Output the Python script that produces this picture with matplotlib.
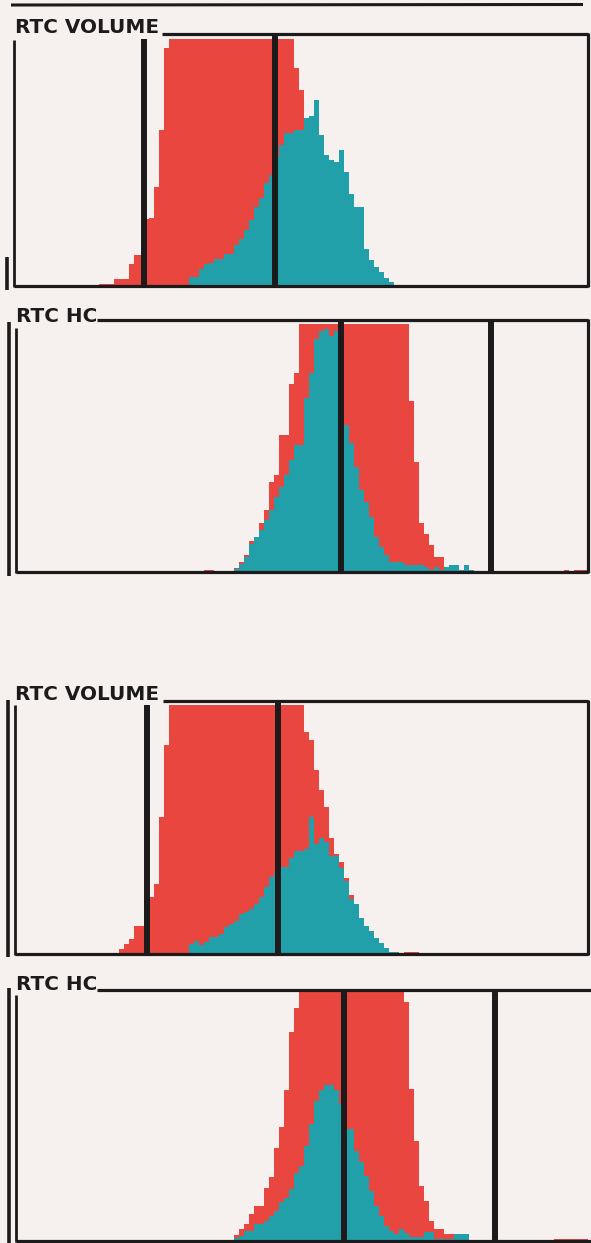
import numpy as np
import matplotlib
matplotlib.use("Agg")
import matplotlib.pyplot as plt

# ---------------------------------------------------------------------------
# Histogram channel data (counts scaled so that 100 = full-scale display)
# Each series starts at the given channel and runs over consecutive channels.
# ---------------------------------------------------------------------------

# Upper pair: RTC VOLUME
vol_a_red_start = 17
vol_a_red = [1, 1, 1, 3, 3, 3, 9, 12.5, 12.5, 27, 27.5, 40, 63, 96,
             100, 100, 100, 100, 100, 100, 100, 100, 100, 100, 100, 100, 100,
             100, 100, 100, 100, 100, 100, 100, 100, 100, 100, 100, 100,
             88, 79, 68, 55, 42, 30, 20, 12, 7, 4, 2, 1]
vol_a_teal_start = 35
vol_a_teal = [3.6, 3.6, 7, 9, 9.3, 11, 11, 13, 13, 16.6, 19, 22.7, 26.7, 32,
              35.6, 41.7, 45, 52, 57, 62, 62, 63, 63, 68, 68.5, 75, 61, 53,
              51, 50, 55, 46, 37, 32, 32, 15, 10.5, 7.7, 5.7, 3.2, 1.6,
              0.6, 0.6, 0.6]
vol_a_gates = [25.9, 52.2]

# Upper pair: RTC HC
hc_a_red_start = 38
hc_a_red = [0.8, 0.8, 0, 0, 0, 0, 1.5, 4, 6.5, 12.5, 14, 19.5, 25, 36, 39,
            55, 55, 75.6, 80,
            100, 100, 100, 100, 100, 100, 100, 100, 100, 100, 100, 100, 100,
            100, 100, 100, 100, 100, 100, 100, 100, 100,
            69, 44, 19.6, 15, 10.8, 6, 6, 2,
            0, 0, 0, 0, 0, 0, 0, 0, 0, 0, 0, 0, 0, 0, 0, 0, 0, 0, 0, 0, 0, 0, 0,
            0.6, 0, 0.6, 0.6, 0.6]
hc_a_teal_start = 37
hc_a_teal = [0.4, 0.4, 0.4, 0.4, 0.4, 0.4, 0.4, 1, 3.2, 5.7, 11, 14, 16.6,
             20.6, 24.7, 30, 34, 39, 45, 51, 51, 70, 80, 94, 97, 98, 95, 97,
             96, 59, 52, 42, 33, 28, 22, 14, 10, 6.5, 4, 4, 4, 2.7, 2.7, 2.7,
             2.7, 2, 0.5, 2, 0.5, 2, 2.7, 2.7, 0.5, 2.7, 0.5,
             0.4, 0.4, 0.4, 0.4, 0.4, 0.4, 0.4, 0.4, 0.4, 0.4, 0.4, 0.4, 0.4,
             0.4, 0.4, 0.4, 0.4, 0.4, 0.4, 0.4, 0.4, 0.4, 0.4]
hc_a_gates = [65.3, 95.3]

# Lower pair: RTC VOLUME
vol_b_red_start = 21
vol_b_red = [2, 4, 6, 11.4, 11.4, 23, 23, 28, 55, 84,
             100, 100, 100, 100, 100, 100, 100, 100, 100, 100, 100, 100, 100,
             100, 100, 100, 100, 100, 100, 100, 100, 100, 100, 100, 100, 100,
             100,
             89, 86, 74, 66, 59, 46.6, 40, 37, 30.6, 23.8, 18, 12, 9, 6, 4, 2,
             1, 0, 0, 0, 0.8, 0.8, 0.8]
vol_b_teal_start = 35
vol_b_teal = [4, 5.4, 3.5, 4.7, 6.7, 6.7, 8, 10.7, 12, 13.4, 16, 17, 18, 20,
              23, 27, 31, 33, 35, 35, 38.5, 41.5, 41.5, 42, 55, 44, 46.4, 45,
              39.5, 39.5, 34.7, 29.4, 22, 20, 14.5, 11.3, 9.3, 6.5, 4.4, 2.4,
              0.8, 0.8]
vol_b_gates = [26.5, 52.7]

# Lower pair: RTC HC
hc_b_red_start = 44
hc_b_red = [2.3, 4.7, 6.7, 10.8, 14, 14, 21, 25.5, 37, 45.7, 60.5, 84, 93.4,
            100, 100, 100, 100, 100, 100, 100, 100, 100, 100, 100, 100, 100,
            100, 100, 100, 100, 100, 100, 100, 100,
            96, 61, 40, 22, 16, 8, 4.7, 4.7, 2.7, 2.7, 2, 2,
            0, 0, 0, 0, 0, 0, 0, 0, 0, 0, 0, 0, 0, 0, 0, 0, 0, 0,
            0.8, 0.8, 0.8, 0.8, 0.8, 0.8, 0.8]
hc_b_teal_start = 40
hc_b_teal = [0.4, 0.4, 0.4, 0.4, 1, 2, 4, 4, 6.7, 6.7, 8, 10, 12, 15.5, 17,
             20.8, 27, 30, 38, 47, 56, 60.5, 62.5, 62.5, 60.5, 55, 45, 45, 36,
             31.6, 26, 20, 14, 10, 6, 4, 2.7, 4.7, 3, 1.3, 1.3, 1.3, 3.4, 3.4,
             0.5, 0.5, 0.5, 0.5, 2.7, 2.7, 2.7,
             0.4, 0.4, 0.4, 0.4, 0.4, 0.4, 0.4, 0.4, 0.4, 0.4, 0.4, 0.4, 0.4,
             0.4, 0.4, 0.4, 0.4, 0.4, 0.4, 0.4, 0.4, 0.4, 0.4, 0.4]
hc_b_gates = [65.9, 96.1]

# ---------------------------------------------------------------------------
# Styling / layout (pixel units of the printed sheet)
# ---------------------------------------------------------------------------
W, H, DPI = 591, 1243, 100
PAPER = "#f6f1ee"
RED = "#e8463f"
TEAL = "#22a0a9"
INK = "#1c1a1a"
BIN_PX = 5.0
X0, X1 = 14, 588

panels = [
    dict(title="RTC VOLUME", tx=15, ty=33, top=33.5, base=286, unit=2.475,
         red=(vol_a_red_start, vol_a_red), teal=(vol_a_teal_start, vol_a_teal),
         gates=vol_a_gates, gate_tops=[39, 33.5], line_x0=162, right=X1,
         left_x=14, left_top=40, outer=(6.5, 257, 290), bottom_x1=X1),
    dict(title="RTC HC", tx=16, ty=322, top=320, base=571.5, unit=2.478,
         red=(hc_a_red_start, hc_a_red), teal=(hc_a_teal_start, hc_a_teal),
         gates=hc_a_gates, gate_tops=[320, 320], line_x0=97, right=X1,
         left_x=16, left_top=328, outer=(8.5, 322, 576), bottom_x1=X1),
    dict(title="RTC VOLUME", tx=15, ty=700, top=700.5, base=954, unit=2.49,
         red=(vol_b_red_start, vol_b_red), teal=(vol_b_teal_start, vol_b_teal),
         gates=vol_b_gates, gate_tops=[705, 700.5], line_x0=163, right=X1,
         left_x=15, left_top=705, outer=(7.5, 700, 957), bottom_x1=X1),
    dict(title="RTC HC", tx=16, ty=990, top=990, base=1240.5, unit=2.488,
         red=(hc_b_red_start, hc_b_red), teal=(hc_b_teal_start, hc_b_teal),
         gates=hc_b_gates, gate_tops=[990, 990], line_x0=97, right=None,
         left_x=16, left_top=995, outer=(8.5, 988, 1243), bottom_x1=W),
]

fig = plt.figure(figsize=(W / DPI, H / DPI), dpi=DPI)
fig.patch.set_facecolor(PAPER)

for p in panels:
    ax = fig.add_axes([X0 / W, 1 - p["base"] / H, (X1 - X0) / W,
                       (p["base"] - p["top"]) / H])
    ax.set_xlim(0, (X1 - X0) / BIN_PX)
    ax.set_ylim(0, (p["base"] - p["top"]) / p["unit"])
    ax.axis("off")
    ax.patch.set_alpha(0)
    for (start, vals), col in ((p["red"], RED), (p["teal"], TEAL)):
        vals = np.asarray(vals, dtype=float)
        edges = start + np.arange(len(vals) + 1)
        ax.stairs(vals, edges, fill=True, color=col, lw=0, zorder=2)
    for g, gt in zip(p["gates"], p["gate_tops"]):
        frac = (p["base"] - gt) / (p["base"] - p["top"])
        ax.axvline(g, 0, frac, color=INK, lw=4.3, solid_capstyle="butt",
                   zorder=4)

# Frame lines and labels drawn in sheet pixel coordinates
ov = fig.add_axes([0, 0, 1, 1])
ov.set_xlim(0, W)
ov.set_ylim(H, 0)
ov.axis("off")
ov.patch.set_alpha(0)

def seg(x0, y0, x1, y1, lw):
    ov.plot([x0, x1], [y0, y1], color=INK, lw=lw, solid_capstyle="butt")

seg(11, 5, 583, 4.5, 2.2)

for p in panels:
    seg(p["line_x0"], p["top"], p["bottom_x1"], p["top"], 2.3)
    if p["right"] is not None:
        seg(p["right"], p["top"] - 1, p["right"], p["base"] + 1, 2.3)
    seg(p["left_x"], p["base"], p["bottom_x1"], p["base"], 2.3)
    seg(p["left_x"], p["left_top"], p["left_x"], p["base"] + 1, 2.0)
    ox, oy0, oy1 = p["outer"]
    seg(ox, oy0, ox, oy1, 2.6)
    ov.text(p["tx"], p["ty"], p["title"], ha="left", va="baseline",
            fontsize=14.4, fontweight="bold", family="DejaVu Sans",
            color=INK)

fig.savefig("out.png", dpi=DPI, facecolor=PAPER)
